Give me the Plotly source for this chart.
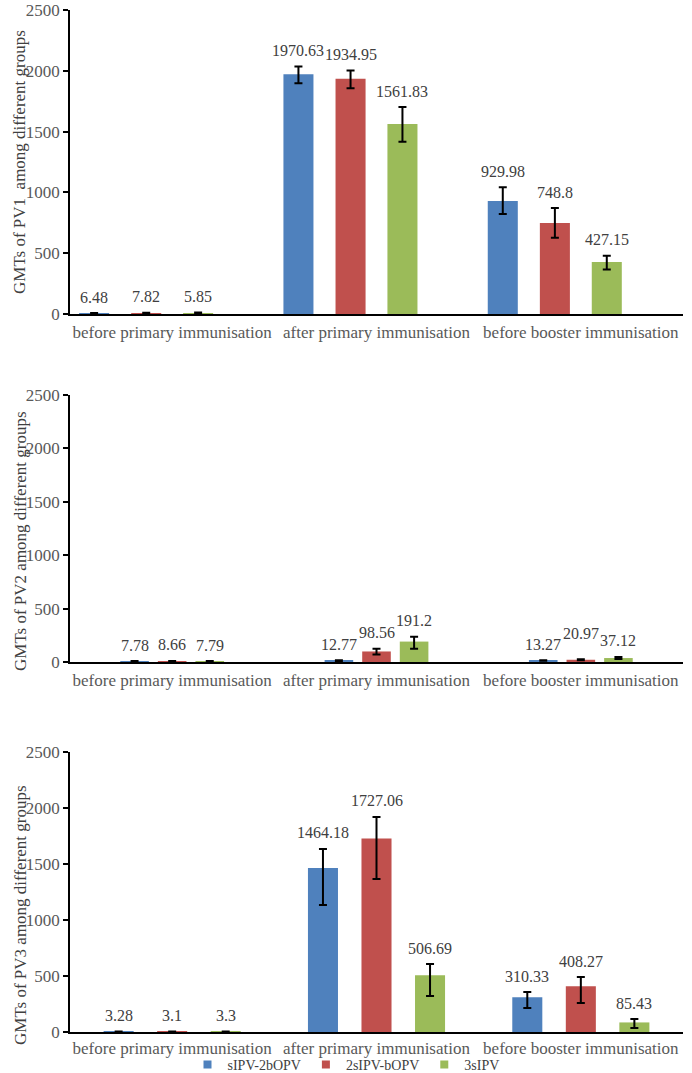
import plotly.graph_objects as go

# ---------------- data ----------------
categories = ["before primary immunisation", "after primary immunisation", "before booster immunisation"]
groups = ["sIPV-2bOPV", "2sIPV-bOPV", "3sIPV"]
colors = ["#4F81BD", "#C0504D", "#9BBB59"]
panel_titles = ["GMTs of PV1\u00a0 among different groups",
                "GMTs of PV2 among different groups",
                "GMTs of PV3 among different groups"]

# PV1 GMTs (rows: groups, cols: categories) and CI bounds
pv1_gmt = [[6.48, 1970.63, 929.98], [7.82, 1934.95, 748.8], [5.85, 1561.83, 427.15]]
pv1_hi = [[8.0, 2036, 1042], [9.5, 2003, 871], [12.0, 1702, 480]]
pv1_lo = [[5.2, 1897, 822], [6.4, 1857, 627], [3.5, 1417, 366]]

# PV2
pv2_gmt = [[7.78, 12.77, 13.27], [8.66, 98.56, 20.97], [7.79, 191.2, 37.12]]
pv2_hi = [[9.0, 16.0, 16.5], [10.0, 125, 26], [9.0, 236, 47]]
pv2_lo = [[6.7, 10.0, 10.7], [7.5, 70, 17], [6.7, 125, 29]]

# PV3
pv3_gmt = [[3.28, 1464.18, 310.33], [3.1, 1727.06, 408.27], [3.3, 506.69, 85.43]]
pv3_hi = [[3.8, 1634, 357], [3.6, 1920, 491], [3.8, 607, 116]]
pv3_lo = [[2.8, 1134, 214], [2.7, 1366, 259], [2.9, 321, 36]]

y_ticks = [0, 500, 1000, 1500, 2000, 2500]

# ---------------- styling / geometry ----------------
H, W = 1073, 692
FONT = "Liberation Serif"
x_dom = [70 / W, 683 / W]
# (top px, bottom px) of each plot area
y_px = [(10, 314), (395, 662), (752, 1032)]
bar_w = [0.147, 0.14, 0.147]
bar_c = [[-0.382, -0.127, 0.127], [-0.184, 0.0, 0.184], [-0.262, 0.0, 0.262]]
title_y_px = [162, 541, 915]
cat_standoff = [2, 2, 0]
label_shift = 16
label_nudge = {(1, 1, 2): 10}  # (panel, group, category) -> extra px

panels = [(pv1_gmt, pv1_hi, pv1_lo), (pv2_gmt, pv2_hi, pv2_lo), (pv3_gmt, pv3_hi, pv3_lo)]

fig = go.Figure()
annotations = []
for p, (gmt, hi, lo) in enumerate(panels):
    xa = "x" if p == 0 else f"x{p+1}"
    ya = "y" if p == 0 else f"y{p+1}"
    for g in range(3):
        w = bar_w[p]
        c = bar_c[p][g]
        fig.add_trace(go.Bar(
            x=categories, y=gmt[g], name=groups[g],
            width=[w] * 3, offset=[c - w / 2] * 3,
            marker=dict(color=colors[g], line=dict(width=0)),
            error_y=dict(type="data", symmetric=False,
                         array=[h - v for h, v in zip(hi[g], gmt[g])],
                         arrayminus=[v - l for v, l in zip(gmt[g], lo[g])],
                         color="black", thickness=2, width=4),
            xaxis=xa, yaxis=ya, showlegend=False, hoverinfo="skip"))
        for i in range(3):
            annotations.append(dict(
                x=i + c, y=hi[g][i], xref=xa, yref=ya,
                text=f"{gmt[g][i]:g}", showarrow=False,
                yshift=label_shift + label_nudge.get((p, g, i), 0),
                yanchor="middle", xanchor="center",
                font=dict(family=FONT, size=16, color="#404040")))
    annotations.append(dict(
        x=20 / W, y=1 - title_y_px[p] / H, xref="paper", yref="paper",
        text=panel_titles[p], textangle=-90, showarrow=False,
        xanchor="center", yanchor="middle",
        font=dict(family=FONT, size=17, color="#404040")))

# legend entries
for g in range(3):
    fig.add_trace(go.Scatter(x=[None], y=[None], mode="markers", name=groups[g],
                             marker=dict(symbol="square", size=8, color=colors[g]),
                             showlegend=True))

layout = dict(
    width=W, height=H, margin=dict(l=0, r=0, t=0, b=0, autoexpand=False),
    paper_bgcolor="white", plot_bgcolor="white",
    barmode="overlay", annotations=annotations,
    legend=dict(orientation="h", x=0.5, xanchor="center",
                yref="container", y=1 - 1065 / H, yanchor="middle",
                font=dict(family=FONT, size=14, color="#404040"),
                itemwidth=30, tracegroupgap=0, bgcolor="rgba(0,0,0,0)"),
)
for p in range(3):
    sfx = "" if p == 0 else str(p + 1)
    top, bot = y_px[p]
    layout[f"xaxis{sfx}"] = dict(
        domain=x_dom, anchor=f"y{sfx}", type="category", range=[-0.5, 2.5],
        showline=True, linecolor="black", linewidth=1.5, ticks="",
        showgrid=False, zeroline=False, ticklabelstandoff=cat_standoff[p],
        tickfont=dict(family=FONT, size=17, color="#595959"))
    layout[f"yaxis{sfx}"] = dict(
        domain=[1 - bot / H, 1 - top / H], anchor=f"x{sfx}",
        range=[0, 2500], tickvals=y_ticks, ticks="outside", ticklen=5,
        tickcolor="black", tickwidth=1.5, showline=True, linecolor="black",
        linewidth=1.5, showgrid=False, zeroline=False, ticklabeloverflow="allow",
        tickfont=dict(family=FONT, size=17, color="#595959"))

fig.update_layout(**layout)
fig.write_html("out.html")
